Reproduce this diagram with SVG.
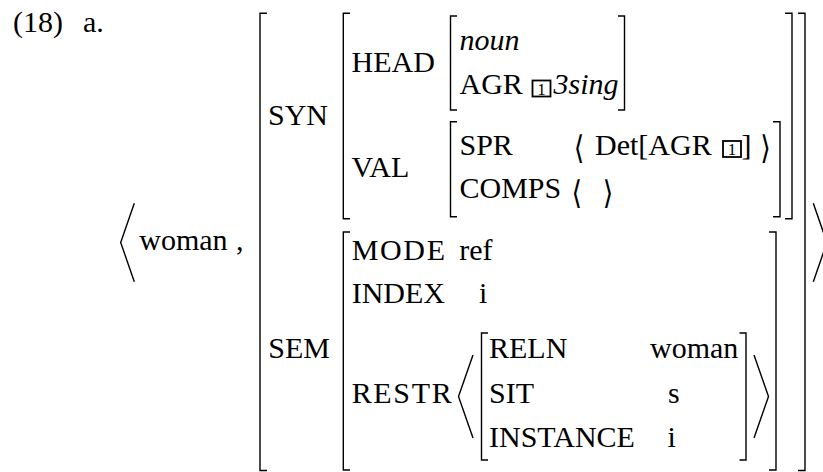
<svg xmlns="http://www.w3.org/2000/svg" width="823" height="472" viewBox="0 0 823 472">
<style>
.t{font-family:"Liberation Serif","Times New Roman",serif;font-size:30px;fill:#000}
.it{font-style:italic}
.br{fill:none;stroke:#000;stroke-width:1.4}
.ang{font-family:"DejaVu Sans",sans-serif;font-size:27px;fill:#000;text-anchor:middle}
.tag{fill:none;stroke:#000;stroke-width:1.8}
.num{font-family:"Liberation Serif","Times New Roman",serif;font-size:17px;fill:#000;text-anchor:middle}
</style>
<rect width="823" height="472" fill="#fff"/>
<g id="label">
<text class="t" x="13" y="32">(18)</text>
<text class="t" x="83" y="32">a.</text>
</g>
<g id="pair">
<polyline class="br" points="134.3,203.3 120.7,242.5 134.3,281.7"/>
<text class="t" x="139.3" y="250">woman</text>
<text class="t" x="236" y="250">,</text>
<polyline class="br" points="813.3,203.3 826.9,242.5 813.3,281.7"/>
</g>
<g id="outer">
<path class="br" d="M267,13.3H260V470.5H267"/>
<path class="br" d="M798,13.3H805V470.5H798"/>
</g>
<g id="syn">
<text class="t" x="268" y="125">SYN</text>
<path class="br" d="M350,13.3H343.3V218.7H350"/>
<path class="br" d="M785,13.3H792V218.7H785"/>
<g id="head">
<text class="t" x="351.5" y="71.5">HEAD</text>
<path class="br" d="M457,16H450.5V110H457"/>
<path class="br" d="M618,16H624.5V110H618"/>
<text class="t it" x="459.5" y="50">noun</text>
<text class="t" x="459.5" y="94">AGR</text>
<rect class="tag" x="532.5" y="80.5" width="18" height="16"/>
<text class="num" x="541.5" y="94.8">1</text>
<text class="t it" x="553.5" y="94">3sing</text>
</g>
<g id="val">
<text class="t" x="351.5" y="177">VAL</text>
<path class="br" d="M457,121.7H450.5V216.7H457"/>
<path class="br" d="M773,121.7H780V216.7H773"/>
<text class="t" x="459.5" y="155">SPR</text>
<text class="ang" transform="translate(579,148.3) scale(1,1.2)" y="9.3">⟨</text>
<text class="t" x="595" y="155">Det[AGR</text>
<rect class="tag" x="723" y="141" width="18" height="16"/>
<text class="num" x="732" y="155.3">1</text>
<text class="t" x="741.5" y="155">]</text>
<text class="ang" transform="translate(765.5,148.3) scale(1,1.2)" y="9.3">⟩</text>
<text class="t" x="459.5" y="198">COMPS</text>
<text class="ang" transform="translate(576.7,193.3) scale(1,1.2)" y="9.3">⟨</text>
<text class="ang" transform="translate(608,193.3) scale(1,1.2)" y="9.3">⟩</text>
</g>
</g>
<g id="sem">
<text class="t" x="268.3" y="358.3">SEM</text>
<path class="br" d="M350,232H343.3V470H350"/>
<path class="br" d="M769,232H776V470H769"/>
<text class="t" x="351.7" y="260" textLength="93.3" lengthAdjust="spacing">MODE</text>
<text class="t" x="459.3" y="260">ref</text>
<text class="t" x="351.7" y="303.3">INDEX</text>
<text class="t" x="479" y="303.3">i</text>
<text class="t" x="351.7" y="402.5" textLength="100" lengthAdjust="spacing">RESTR</text>
<g id="restr">
<polyline class="br" points="473,355 458.5,396.5 473,438"/>
<path class="br" d="M488,333H481.5V460H488"/>
<path class="br" d="M739.5,333H746V460H739.5"/>
<polyline class="br" points="754,355 768.5,396.5 754,438"/>
<text class="t" x="489" y="358">RELN</text>
<text class="t" x="650" y="358">woman</text>
<text class="t" x="489" y="402.5">SIT</text>
<text class="t" x="668" y="402.5">s</text>
<text class="t" x="489" y="447">INSTANCE</text>
<text class="t" x="667.5" y="447">i</text>
</g>
</g>
</svg>
